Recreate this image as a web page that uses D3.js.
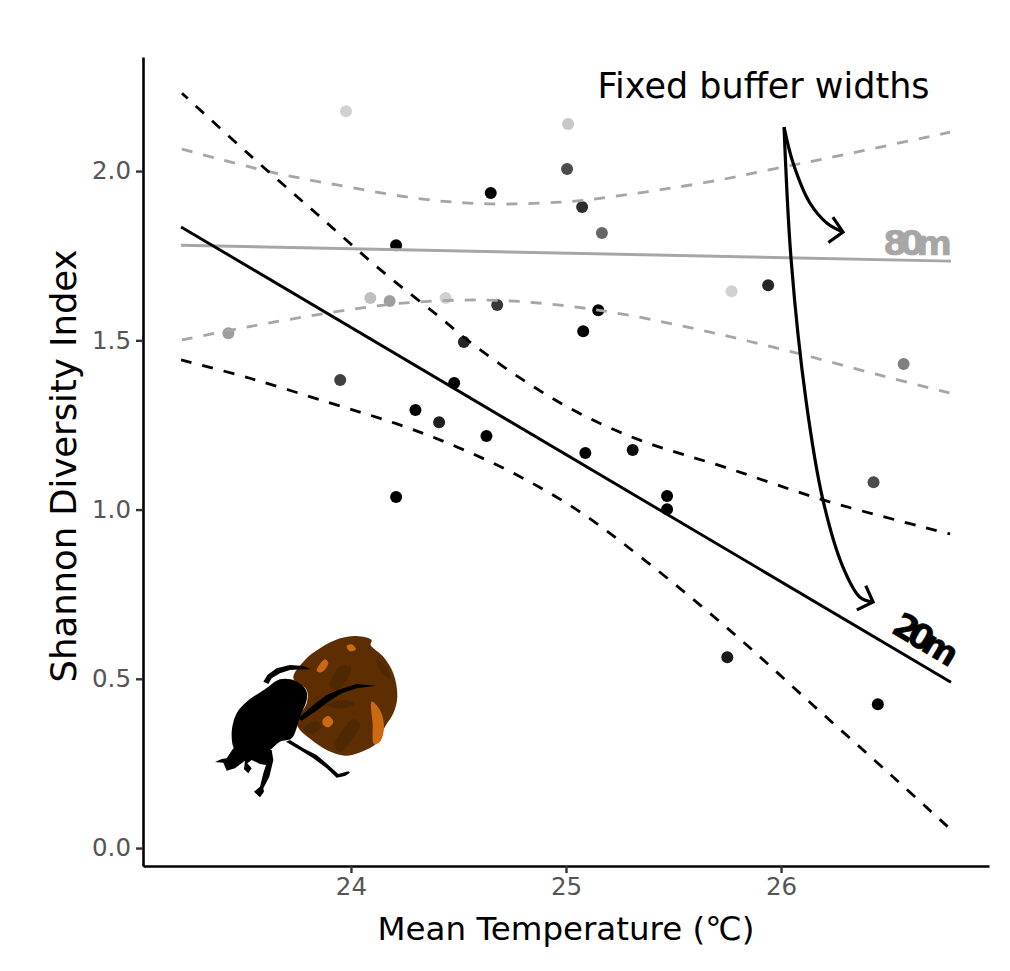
<!DOCTYPE html>
<html>
<head>
<meta charset="utf-8">
<script src="https://d3js.org/d3.v7.min.js"></script>
<style>
  html, body { margin: 0; padding: 0; background: #fff; }
  svg { display: block; }
  text { font-family: "DejaVu Sans", sans-serif; }
</style>
</head>
<body>
<div id="chart"></div>
<script>
const width = 1010;
const height = 971;
const margin = { top: 57, right: 21, bottom: 105, left: 143 };

// survey sites
const siteTemp = [23.977, 25.01, 25.005, 24.65, 25.075, 25.167, 24.21, 25.94, 25.77, 23.43, 24.09, 24.18, 24.44, 24.68, 25.15, 25.08, 24.525, 23.95, 24.48, 24.30, 24.41, 24.63, 24.21, 25.09, 25.31, 25.47, 25.47, 26.43, 26.57, 25.75, 26.45];
const siteShannon = [2.177, 2.139, 2.006, 1.935, 1.894, 1.817, 1.781, 1.663, 1.645, 1.521, 1.625, 1.616, 1.625, 1.604, 1.589, 1.527, 1.495, 1.383, 1.374, 1.294, 1.258, 1.217, 1.037, 1.167, 1.176, 1.04, 1.001, 1.081, 1.43, 0.564, 0.425];
const siteWeight = [0.18, 0.22, 0.7, 1, 0.82, 0.6, 1, 0.85, 0.18, 0.38, 0.25, 0.38, 0.18, 0.78, 1, 1, 0.85, 0.75, 1, 1, 0.88, 1, 1, 1, 0.95, 1, 1, 0.7, 0.5, 0.9, 1];

// fitted lines
const fitTemp = [23.21, 26.79];
const fit80 = [1.781, 1.734];
const fit20 = [1.835, 0.49];

// confidence bands
const upper80Temp = [23.214, 23.609, 23.935, 24.335, 24.647, 24.972, 25.126, 25.656, 25.963, 26.26, 26.786];
const upper80 = [2.065, 2.0, 1.959, 1.917, 1.903, 1.908, 1.917, 1.967, 2.006, 2.044, 2.115];
const lower80Temp = [23.214, 23.516, 23.916, 24.242, 24.633, 24.972, 25.284, 25.67, 26.056, 26.46, 26.786];
const lower80 = [1.501, 1.539, 1.583, 1.61, 1.619, 1.604, 1.575, 1.524, 1.465, 1.397, 1.344];
const upper20Temp = [23.214, 23.53, 23.842, 24.149, 24.4, 24.553, 24.8, 25.051, 25.344, 25.749, 26.214, 26.786];
const upper20 = [2.23, 2.047, 1.873, 1.702, 1.575, 1.495, 1.383, 1.288, 1.205, 1.123, 1.025, 0.928];
const lower20Temp = [23.21, 23.53, 23.902, 24.214, 24.493, 24.772, 25.051, 25.377, 25.777, 26.149, 26.521, 26.777];
const lower20 = [1.442, 1.388, 1.315, 1.253, 1.185, 1.102, 0.999, 0.845, 0.635, 0.422, 0.21, 0.062];

// annotation arrows
const arrowShortTemp = [26.014, 26.056, 26.135, 26.214, 26.288];
const arrowShortVal = [2.13, 2.024, 1.905, 1.846, 1.82];
const arrowLongTemp = [26.014, 26.047, 26.116, 26.195, 26.288, 26.367, 26.428];
const arrowLongVal = [2.13, 1.737, 1.323, 1.028, 0.83, 0.741, 0.727];
const arrowHeadDeg = [10, 20];

const xTicks = [24, 25, 26];
const yTicks = [0, 0.5, 1, 1.5, 2];

const xScale = d3.scaleLinear().domain([23.033, 26.967]).range([margin.left, width - margin.right]);
const yScale = d3.scaleLinear().domain([-0.053, 2.337]).range([height - margin.bottom, margin.top]);

const svg = d3.select("#chart").append("svg").attr("width", width).attr("height", height);

const toPairs = (xs, ys) => xs.map((x, i) => [x, ys[i]]);
const smooth = d3.line().x(d => xScale(d[0])).y(d => yScale(d[1])).curve(d3.curveCatmullRom.alpha(0.5));
const straight = d3.line().x(d => xScale(d[0])).y(d => yScale(d[1]));

// dung beetle and ball, traced by hand. units are 1/3 px
const art = svg.append("g").attr("transform", "translate(180,610) scale(0.3333)");
const blob = d3.line().curve(d3.curveCatmullRomClosed.alpha(0.5));
const poly = d3.line().curve(d3.curveLinearClosed);
const ball = [[340,205],[375,150],[420,115],[480,85],[530,78],[575,90],[572,105],[610,140],[640,190],[652,260],[640,310],[615,350],[590,400],[545,425],[495,437],[440,420],[395,390],[360,360],[350,335],[380,280],[380,240]];
art.append("path").attr("d", blob(ball)).attr("fill", "#5c2e02");
[
  [[450,225],[480,170],[512,170],[505,200],[470,240]],
  [[440,285],[490,270],[525,280],[490,295]],
  [[465,405],[490,360],[520,328],[540,345],[510,395],[480,425]],
  [[370,355],[410,335],[425,350],[395,370]],
  [[590,150],[625,180],[630,205],[600,180]]
].forEach(p => art.append("path").attr("d", blob(p)).attr("fill", "#4e2803"));
[
  [[575,275],[600,300],[612,350],[600,395],[582,402],[578,340]],
  [[410,182],[435,148],[445,160],[425,187]],
  [[500,108],[515,103],[528,118],[510,124]],
  [[428,330],[445,318],[460,335],[445,352],[430,345]]
].forEach(p => art.append("path").attr("d", blob(p)).attr("fill", "#cc6a12"));
art.append("path").attr("fill", "#000")
  .attr("d", blob([[255,238],[300,208],[345,212],[378,240],[380,270],[360,320],[335,385],[300,395],[270,420],[240,440],[200,435],[165,420],[155,370],[170,310],[200,275]]));
[
  // head and front feet
  [[160,415],[140,445],[125,447],[105,456],[130,458],[140,482],[165,475],[195,452],[192,478],[205,490],[215,475],[202,460],[215,450],[240,462],[258,465],[250,490],[240,530],[222,545],[240,562],[252,545],[250,535],[268,500],[280,450],[275,420]],
  // upper leg
  [[250,215],[262,195],[290,175],[330,165],[370,168],[392,178],[370,178],[330,180],[300,190],[275,205],[265,222]],
  // right leg
  [[355,325],[400,285],[440,255],[480,238],[530,222],[588,227],[530,235],[485,250],[445,275],[405,305],[365,332]],
  // lower leg
  [[318,395],[330,390],[370,415],[410,435],[445,465],[475,492],[505,484],[510,488],[495,498],[470,503],[440,475],[400,445],[360,420]]
].forEach(p => art.append("path").attr("d", poly(p)).attr("fill", "#000"));

// bands
const bands = [
  { xs: upper80Temp, ys: upper80, color: "#a6a6a6", offset: 0 },
  { xs: lower80Temp, ys: lower80, color: "#a6a6a6", offset: 0 },
  { xs: upper20Temp, ys: upper20, color: "#000", offset: 3 },
  { xs: lower20Temp, ys: lower20, color: "#000", offset: 0 }
];

// sites go under the lines
svg.append("g").selectAll("circle")
  .data(siteTemp)
  .join("circle")
  .attr("cx", d => xScale(d))
  .attr("cy", (d, i) => yScale(siteShannon[i]))
  .attr("r", 6)
  .attr("fill", "#000")
  .attr("fill-opacity", (d, i) => siteWeight[i]);

bands.forEach(b => {
  svg.append("path")
    .attr("d", smooth(toPairs(b.xs, b.ys)))
    .attr("fill", "none")
    .attr("stroke", b.color)
    .attr("stroke-width", 2.8)
    .attr("stroke-dasharray", "11,11")
    .attr("stroke-dashoffset", b.offset);
});

svg.append("path").attr("d", straight(toPairs(fitTemp, fit80))).attr("fill", "none").attr("stroke", "#a6a6a6").attr("stroke-width", 2.9);
svg.append("path").attr("d", straight(toPairs(fitTemp, fit20))).attr("fill", "none").attr("stroke", "#000").attr("stroke-width", 2.9);

// arrows
[[arrowShortTemp, arrowShortVal], [arrowLongTemp, arrowLongVal]].forEach(([xs, ys], k) => {
  const pts = toPairs(xs, ys);
  svg.append("path").attr("d", smooth(pts)).attr("fill", "none").attr("stroke", "#000").attr("stroke-width", 3.2);
  const [tx, ty] = pts[pts.length - 1];
  const a = arrowHeadDeg[k] * Math.PI / 180;
  const head = [a - 0.8, a + 0.8].map(t => [xScale(tx) - 18 * Math.cos(t), yScale(ty) - 18 * Math.sin(t)]);
  svg.append("path")
    .attr("d", d3.line()([head[0], [xScale(tx), yScale(ty)], head[1]]))
    .attr("fill", "none").attr("stroke", "#000").attr("stroke-width", 3.2);
});

// axes
const xAxis = svg.append("g")
  .attr("transform", `translate(0,${height - margin.bottom})`)
  .call(d3.axisBottom(xScale).tickValues(xTicks).tickFormat(d3.format("d")).tickSizeInner(7).tickSizeOuter(0).tickPadding(5));
const yAxis = svg.append("g")
  .attr("transform", `translate(${margin.left},0)`)
  .call(d3.axisLeft(yScale).tickValues(yTicks).tickFormat(d3.format(".1f")).tickSizeInner(7).tickSizeOuter(0).tickPadding(5));
[xAxis, yAxis].forEach(a => {
  a.select(".domain").attr("stroke", "#000").attr("stroke-width", 2.6);
  a.selectAll(".tick line").attr("stroke", "#333").attr("stroke-width", 2.4);
  a.selectAll(".tick text").attr("fill", "#555").style("font-size", "24.5px").style("font-family", '"DejaVu Sans", sans-serif');
});

// titles
svg.append("text").attr("x", 566).attr("y", 940).attr("text-anchor", "middle").style("font-size", "32.5px").text("Mean Temperature (℃)");
svg.append("text").attr("transform", "translate(76,466) rotate(-90)").attr("text-anchor", "middle").style("font-size", "35.4px").text("Shannon Diversity Index");
svg.append("text").attr("x", 763.5).attr("y", 98).attr("text-anchor", "middle").style("font-size", "35px").text("Fixed buffer widths");

// line labels
svg.append("text").attr("x", 945).attr("y", 255).attr("text-anchor", "end")
  .style("font-size", "34px").style("font-weight", "bold").style("letter-spacing", "-7px")
  .attr("fill", "#a6a6a6").attr("stroke", "#a6a6a6").attr("stroke-width", 0.6).text("80m");
svg.append("text").attr("transform", "translate(922,640) rotate(31)").attr("text-anchor", "middle").attr("dominant-baseline", "middle")
  .style("font-size", "34px").style("font-weight", "bold").style("letter-spacing", "-6.5px")
  .attr("fill", "#000").attr("stroke", "#000").attr("stroke-width", 0.6).text("20m");
</script>
</body>
</html>
